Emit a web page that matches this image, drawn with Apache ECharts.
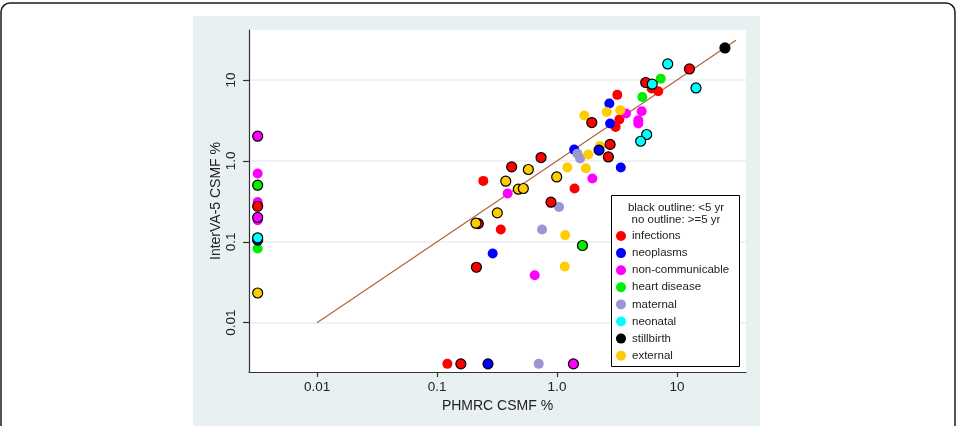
<!DOCTYPE html>
<html>
<head>
<meta charset="utf-8">
<script src="https://cdn.jsdelivr.net/npm/echarts@6/dist/echarts.min.js"></script>
<style>
html,body{margin:0;padding:0;background:#fff;}
#chart{width:957px;height:426px;}
</style>
</head>
<body>
<div id="chart"></div>
<script>
// ---- data (PHMRC CSMF %, InterVA-5 CSMF %) ----
const categories = ['infections','neoplasms','non-communicable','heart disease','maternal','neonatal','stillbirth','external'];
const colors = ['#ff0000','#0000ff','#ff00ff','#00ee00','#9a96d4','#00ffff','#000000','#ffcc00'];

// under 5 (black outline)
const infectionsU5 = [[0.0032,0.275],[0.158,0.0031],[12.7,13.7],[5.49,9.31],[1.95,2.98],[2.77,1.60],[2.68,1.12],[0.736,1.10],[0.419,0.843],[0.891,0.309],[0.221,0.168],[0.213,0.0485]];
const neoplasmsU5 = [[0.0032,0.105],[0.266,0.0031],[2.24,1.36]];
const noncommU5 = [[0.0032,2.02],[0.0032,0.200],[1.37,0.0031]];
const heartU5 = [[0.0032,0.501],[1.63,0.090]];
const maternalU5 = [];
const neonatalU5 = [[0.0032,0.112],[8.37,15.8],[14.4,7.98],[6.22,8.88],[5.59,2.12],[4.98,1.75]];
const stillbirthU5 = [[25.1,24.9]];
const externalU5 = [[0.0032,0.0233],[0.577,0.783],[0.994,0.634],[0.374,0.561],[0.476,0.447],[0.524,0.456],[0.318,0.228],[0.211,0.170]];

// 5 and over (no outline)
const infectionsO5 = [[0.122,0.0031],[6.15,7.85],[6.98,7.27],[3.18,6.55],[3.31,3.25],[3.08,2.63],[1.40,0.456],[0.243,0.566],[0.340,0.142]];
const neoplasmsO5 = [[2.73,5.12],[2.77,2.90],[1.39,1.38],[3.40,0.829],[0.291,0.0717]];
const noncommO5 = [[0.0032,0.699],[0.0032,0.311],[0.0032,0.185],[3.76,3.85],[5.08,4.11],[4.76,3.18],[4.76,2.90],[1.97,0.606],[0.388,0.395],[0.652,0.0387]];
const heartO5 = [[0.0032,0.0826],[7.32,10.4],[5.14,6.18]];
const maternalO5 = [[0.704,0.0031],[1.48,1.23],[1.56,1.07],[1.04,0.270],[0.750,0.142]];
const neonatalO5 = [];
const stillbirthO5 = [];
const externalO5 = [[2.60,4.03],[3.37,4.24],[1.69,3.64],[1.82,1.20],[2.28,1.53],[1.22,0.829],[1.74,0.813],[1.17,0.121],[1.16,0.0495]];

// identity line endpoints
const identityLine = [0.01, 31];

// axes
const xRange = [0.00271, 37.6];
const yRange = [0.00246, 41.5];
const tickValues = [0.01, 0.1, 1, 10];
const tickLabels = ['0.01', '0.1', '1.0', '10'];
const legendHeader = ['black outline: <5 yr', 'no outline: >=5 yr'];

// ---- build ----
const L = v => Math.log10(v);
const tickLogs = tickValues.map(L);
const fmt = v => { const i = tickLogs.findIndex(t => Math.abs(t - v) < 1e-6); return i >= 0 ? tickLabels[i] : ''; };
const toLog = arr => arr.map(p => [L(p[0]), L(p[1])]);

const u5 = [infectionsU5, neoplasmsU5, noncommU5, heartU5, maternalU5, neonatalU5, stillbirthU5, externalU5];
const o5 = [infectionsO5, neoplasmsO5, noncommO5, heartO5, maternalO5, neonatalO5, stillbirthO5, externalO5];

const FONT = "'Liberation Sans', Arial, Helvetica, sans-serif";
const series = [];
series.push({
  type: 'line', name: 'identity', silent: true, showSymbol: false, symbol: 'none',
  data: toLog(identityLine.map(v => [v, v])),
  lineStyle: { color: '#b0643c', width: 1.2 }, z: 1, animation: false
});
categories.forEach((c, i) => {
  series.push({
    type: 'scatter', name: c, data: toLog(o5[i]), symbol: 'circle', symbolSize: 10,
    itemStyle: { color: colors[i], opacity: 1 }, z: 2, animation: false
  });
});
categories.forEach((c, i) => {
  series.push({
    type: 'scatter', name: c, data: toLog(u5[i]), symbol: 'circle', symbolSize: 10,
    itemStyle: { color: colors[i], borderColor: '#000', borderWidth: 1.2, opacity: 1 }, z: 3, animation: false
  });
});

const chart = echarts.init(document.getElementById('chart'), null, { renderer: 'canvas' });
chart.setOption({
  animation: false,
  textStyle: { fontFamily: FONT },
  grid: { left: 249, top: 30, right: 211, bottom: 54, show: true, backgroundColor: '#ffffff', borderWidth: 0, containLabel: false },
  graphic: [
    { type: 'rect', z: -10, shape: { x: 1, y: 3, width: 954, height: 450, r: 9 }, style: { fill: '#ffffff', stroke: '#1a1a1a', lineWidth: 1.5 } },
    { type: 'rect', z: -9, shape: { x: 193, y: 16, width: 567, height: 420 }, style: { fill: '#e9f0f2' } },
    { type: 'rect', z: 50, shape: { x: 611.5, y: 195.5, width: 128, height: 171 }, style: { fill: '#ffffff', stroke: '#000', lineWidth: 1 } },
    { type: 'text', z: 51, x: 676, y: 201.5, style: { text: legendHeader.join('\n'), fontFamily: FONT, fontSize: 11.5, lineHeight: 12.5, fill: '#222', align: 'center', verticalAlign: 'top' } }
  ],
  legend: {
    data: categories, orient: 'vertical', left: 616, top: 230, z: 52,
    itemWidth: 12, itemHeight: 10, itemGap: 5.1, icon: 'circle',
    itemStyle: { borderWidth: 0 },
    textStyle: { fontFamily: FONT, fontSize: 11.5, color: '#222' },
    selectedMode: false, padding: 0
  },
  xAxis: {
    type: 'value', min: L(xRange[0]), max: L(xRange[1]),
    name: 'PHMRC CSMF %', nameLocation: 'middle', nameGap: 22,
    nameTextStyle: { fontFamily: FONT, fontSize: 14, color: '#222' },
    axisLine: { show: true, onZero: false, lineStyle: { color: '#333', width: 1.2 } },
    axisTick: { show: true, customValues: tickLogs, length: 5, lineStyle: { color: '#333', width: 1.2 } },
    axisLabel: { customValues: tickLogs, formatter: fmt, margin: 8, fontFamily: FONT, fontSize: 13.5, color: '#222' },
    splitLine: { show: false }
  },
  yAxis: {
    type: 'value', min: L(yRange[0]), max: L(yRange[1]),
    name: 'InterVA-5 CSMF %', nameLocation: 'middle', nameGap: 26, nameRotate: 90, nameMoveOverlap: false,
    nameTextStyle: { fontFamily: FONT, fontSize: 14, color: '#222' },
    axisLine: { show: true, onZero: false, lineStyle: { color: '#333', width: 1.2 } },
    axisTick: { show: true, customValues: tickLogs, length: 6, lineStyle: { color: '#333', width: 1.2 } },
    axisLabel: { customValues: tickLogs, formatter: fmt, rotate: 90, margin: 11, fontFamily: FONT, fontSize: 13.5, color: '#222' },
    splitLine: { show: true, lineStyle: { color: '#e8eef0', width: 1.5 } }
  },
  series: series
});
</script>
</body>
</html>
